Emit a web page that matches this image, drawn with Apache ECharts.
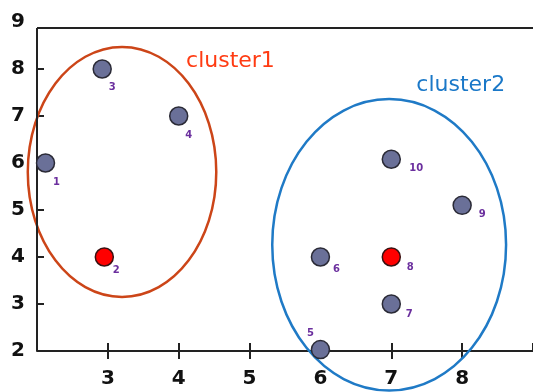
<!DOCTYPE html>
<html>
<head>
<meta charset="utf-8">
<script src="https://cdn.jsdelivr.net/npm/echarts@6/dist/echarts.min.js"></script>
<style>html,body{margin:0;padding:0;background:#fff}#c{width:533px;height:392px}</style>
</head>
<body>
<div id="c"></div>
<script>
// ---- data ----
const pointIds = ['1', '3', '4', '5', '6', '7', '9', '10'];
const pointX   = [2.12, 2.92, 4.0, 6.0, 6.0, 7.0, 8.0, 7.0];
const pointY   = [6.0, 8.0, 7.0, 2.03, 4.0, 3.0, 5.1, 6.08];
const centroidIds = ['2', '8'];
const centroidX   = [2.95, 7.0];
const centroidY   = [4.0, 4.0];
const clusterNames = ['cluster1', 'cluster2'];
const clusterCX = [3.2, 6.97];
const clusterCY = [5.81, 4.26];
const clusterRX = [1.33, 1.65];
const clusterRY = [2.66, 3.1];
const clusterLabelX = [4.73, 7.98];
const clusterLabelY = [8.17, 7.65];
const xTicks = [2, 3, 4, 5, 6, 7, 8, 9];
const yTicks = [2, 3, 4, 5, 6, 7, 8, 9];
const yTickMarks = [2, 3, 4, 5, 6, 7, 8];
const topBorderY = 8.87;

// ---- styles ----
const labelOffsets = {
  '1': [11, 19], '3': [10, 18], '4': [10, 19], '2': [12, 13], '6': [16, 12],
  '8': [19, 10], '7': [18, 10], '9': [20, 9], '10': [25, 9], '5': [-10, -16]
};
const clusterColors = ['#cc4518', '#1f7ac6'];
const clusterTextColors = ['#ff3b12', '#1a78c8'];

function mkPoints(ids, xs, ys) {
  return ids.map((id, i) => ({
    value: [xs[i], ys[i]],
    name: id,
    label: { offset: labelOffsets[id] }
  }));
}

const pointLabel = {
  show: true, position: 'inside', formatter: p => p.name,
  color: '#6b2f9e', fontSize: 10, fontWeight: 'bold', fontFamily: 'DejaVu Sans'
};

const axisFont = { color: '#111', fontSize: 20, fontWeight: 'bold', fontFamily: 'DejaVu Sans' };
const frameLine = { color: '#222', width: 2, type: 'solid' };

const chart = echarts.init(document.getElementById('c'), null, { renderer: 'canvas' });
chart.setOption({
  animation: false,
  backgroundColor: '#fff',
  grid: { left: 37, right: -6, top: 22, bottom: 41, containLabel: false },
  xAxis: [{
    type: 'value', min: xTicks[0], max: xTicks[xTicks.length - 1], interval: 1,
    axisLine: { show: true, lineStyle: { color: '#222', width: 2 } },
    axisTick: { show: true, inside: false, length: 8, lineStyle: { color: '#222', width: 2 } },
    axisLabel: Object.assign({ margin: 18, showMinLabel: false, showMaxLabel: false }, axisFont),
    splitLine: { show: false }
  }, {
    type: 'value', position: 'bottom', min: xTicks[0], max: xTicks[xTicks.length - 1], interval: 1,
    axisLine: { show: false },
    axisTick: { show: true, inside: true, length: 8, lineStyle: { color: '#222', width: 2 } },
    axisLabel: { show: false }, splitLine: { show: false }
  }],
  yAxis: {
    type: 'value', min: yTicks[0], max: yTicks[yTicks.length - 1], interval: 1,
    axisLine: { show: false },
    axisTick: { show: true, inside: true, length: 7, customValues: yTickMarks,
                lineStyle: { color: '#222', width: 2 } },
    axisLabel: Object.assign({ margin: 12 }, axisFont),
    splitLine: { show: false }
  },
  series: [
    {
      type: 'custom',
      silent: true,
      clip: false,
      z: 3,
      data: clusterNames.map((n, i) => [clusterCX[i], clusterCY[i], clusterRX[i], clusterRY[i], clusterLabelX[i], clusterLabelY[i], i]),
      renderItem: function (params, api) {
        const c = api.coord([api.value(0), api.value(1)]);
        const s = api.size([api.value(2), api.value(3)]);
        const t = api.coord([api.value(4), api.value(5)]);
        const i = api.value(6);
        return {
          type: 'group',
          children: [
            { type: 'ellipse', shape: { cx: c[0], cy: c[1], rx: s[0], ry: s[1] },
              style: { fill: 'none', stroke: clusterColors[i], lineWidth: 2.5 } },
            { type: 'text', x: t[0], y: t[1],
              style: { text: clusterNames[i], fill: clusterTextColors[i], fontSize: 22,
                       fontFamily: 'DejaVu Sans', align: 'center', verticalAlign: 'middle' } }
          ]
        };
      },
      markLine: {
        silent: true, symbol: 'none', label: { show: false },
        lineStyle: frameLine,
        data: [
          { yAxis: topBorderY },
          [{ coord: [xTicks[0], yTicks[0]] }, { coord: [xTicks[0], topBorderY] }]
        ]
      }
    },
    {
      type: 'scatter', z: 5,
      symbolSize: 18,
      itemStyle: { color: '#6a7098', borderColor: '#2a2a36', borderWidth: 1.5, opacity: 1 },
      label: pointLabel,
      data: mkPoints(pointIds, pointX, pointY)
    },
    {
      type: 'scatter', z: 5,
      symbolSize: 18,
      itemStyle: { color: '#ff0000', borderColor: '#3a1010', borderWidth: 1.5, opacity: 1 },
      label: pointLabel,
      data: mkPoints(centroidIds, centroidX, centroidY)
    }
  ]
});
</script>
</body>
</html>
